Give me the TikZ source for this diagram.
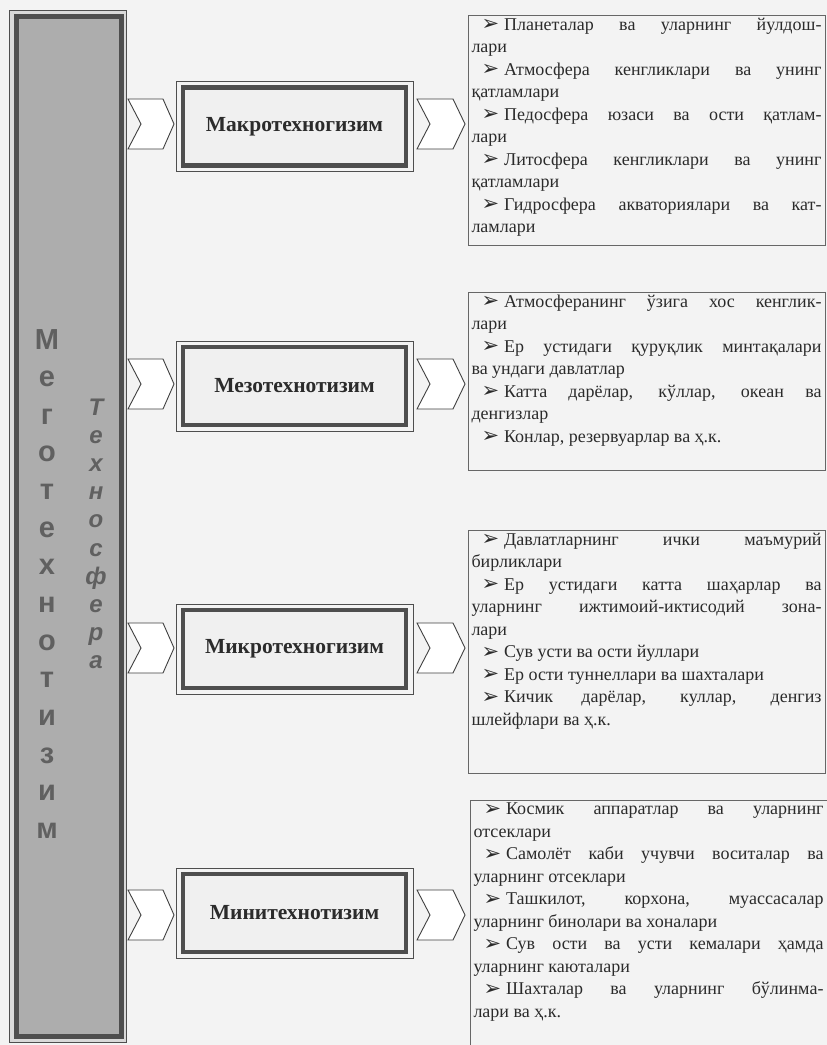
\documentclass[tikz,border=0pt]{standalone}
\usepackage{fontspec}
\setmainfont{Liberation Serif}
\newfontfamily\sansb{Liberation Sans}
\newfontfamily\dvs{DejaVu Sans}
\usetikzlibrary{calc}
\newcommand\bul{\hspace*{10pt}{\dvs\fontsize{21}{21}\selectfont\raisebox{-0.5pt}{➢}}\kern5pt}
\newcommand\jline[1]{\makebox[\linewidth][s]{#1}\par}
\newcommand\pline[1]{#1\par}
\definecolor{bgc}{HTML}{F3F3F3}
\definecolor{dark}{HTML}{4E4E4E}
\definecolor{txt}{HTML}{2B2B2B}
\begin{document}
\begin{tikzpicture}[x=1pt,y=-1pt,
  colA/.style={font=\sansb\bfseries\fontsize{29}{29}\selectfont, text=dark!90, inner sep=0},
  colB/.style={font=\sansb\bfseries\itshape\fontsize{24}{24}\selectfont, text=dark!90, inner sep=0},
  mbox/.style={draw=dark, line width=4.5pt, fill=black!6, minimum width=223pt, minimum height=78pt,
    outer sep=0, inner sep=0, font=\bfseries\fontsize{21.5}{21.5}\selectfont, text=txt},
  outframe/.style={draw=dark, line width=0.9pt},
  rbox/.style={draw=black!60, line width=0.8pt, anchor=north west, inner xsep=3.5pt, inner ysep=3pt,
    outer sep=0, font=\fontsize{18}{22.5}\selectfont, text=txt},
  rboxopen/.style={rbox, draw=none},
  chevshape/.style={draw=black!75, line width=0.9pt, fill=white, line join=miter}
]
\useasboundingbox (0,0) rectangle (827,1045);
\fill[bgc] (0,0) rectangle (827,1045);

% left column
\draw[outframe, fill=black!15] (9.5,10) rectangle (126.5,1042);
\node[draw=dark, line width=5pt, fill=black!32, minimum width=104.5pt, minimum height=1019.5pt,
  outer sep=0, inner sep=0] (col) at (68.75,526.25) {};
\foreach \c [count=\i] in {М,е,г,о,т,е,х,н,о,т,и,з,и,м}
  \node[colA, anchor=base] (a\i) at (47,{349+(\i-1)*37.65}) {\c};
\foreach \c [count=\i] in {Т,е,х,н,о,с,ф,е,р,а}
  \node[colB, anchor=base] (b\i) at (96,{415+(\i-1)*28.2}) {\c};

% middle boxes
\node[mbox] (m1) at (294.5,126.5) {Макротехногизим};
\node[mbox] (m2) at (294.5,386) {Мезотехнотизим};
\node[mbox] (m3) at (294.5,649) {Микротехногизим};
\node[mbox] (m4) at (294.5,913) {Минитехнотизим};
\foreach \i in {1,2,3,4}
  \draw[outframe] ($(m\i.north west)+(-7,-6)$) rectangle ($(m\i.south east)+(7,6)$);

% chevrons
\foreach \yy in {124,384,648,915} {
  \draw[chevshape] (128,\yy-25) -- (163,\yy-25) -- (174,\yy) -- (163,\yy+25) -- (128,\yy+25) -- (141,\yy) -- cycle;
  \draw[chevshape] (417,\yy-25) -- (453,\yy-25) -- (465,\yy) -- (453,\yy+25) -- (417,\yy+25) -- (430,\yy) -- cycle;
}

% right boxes
\node[rbox] (r1) at (468,15) {\begin{minipage}[t][224pt][t]{350pt}
\jline{\bul Планеталар ва уларнинг йулдош-}
\pline{лари}
\jline{\bul Атмосфера кенгликлари ва унинг}
\pline{қатламлари}
\jline{\bul Педосфера юзаси ва ости қатлам-}
\pline{лари}
\jline{\bul Литосфера кенгликлари ва унинг}
\pline{қатламлари}
\jline{\bul Гидросфера акваториялари ва кат-}
\pline{ламлари}
\end{minipage}};

\node[rbox] (r2) at (468,292) {\begin{minipage}[t][172pt][t]{350pt}
\jline{\bul Атмосферанинг ўзига хос кенглик-}
\pline{лари}
\jline{\bul Ер устидаги қуруқлик минтақалари}
\pline{ва ундаги давлатлар}
\jline{\bul Катта дарёлар, кўллар, океан ва}
\pline{денгизлар}
\pline{\bul Конлар, резервуарлар ва ҳ.к.}
\end{minipage}};

\node[rbox] (r3) at (468,530) {\begin{minipage}[t][237pt][t]{350pt}
\jline{\bul Давлатларнинг ички маъмурий}
\pline{бирликлари}
\jline{\bul Ер устидаги катта шаҳарлар ва}
\jline{уларнинг ижтимоий-иктисодий зона-}
\pline{лари}
\pline{\bul Сув усти ва ости йуллари}
\pline{\bul Ер ости туннеллари ва шахталари}
\jline{\bul Кичик дарёлар, куллар, денгиз}
\pline{шлейфлари ва ҳ.к.}
\end{minipage}};

\node[rboxopen] (r4) at (470,800) {\begin{minipage}[t][255pt][t]{350pt}
\jline{\bul Космик аппаратлар ва уларнинг}
\pline{отсеклари}
\jline{\bul Самолёт каби учувчи воситалар ва}
\pline{уларнинг отсеклари}
\jline{\bul Ташкилот, корхона, муассасалар}
\pline{уларнинг бинолари ва хоналари}
\jline{\bul Сув ости ва усти кемалари ҳамда}
\pline{уларнинг каюталари}
\jline{\bul Шахталар ва уларнинг бўлинма-}
\pline{лари ва ҳ.к.}
\end{minipage}};
\draw[draw=black!60, line width=0.8pt] (r4.south west) -- (r4.north west) -- (r4.north east);
\end{tikzpicture}
\end{document}
